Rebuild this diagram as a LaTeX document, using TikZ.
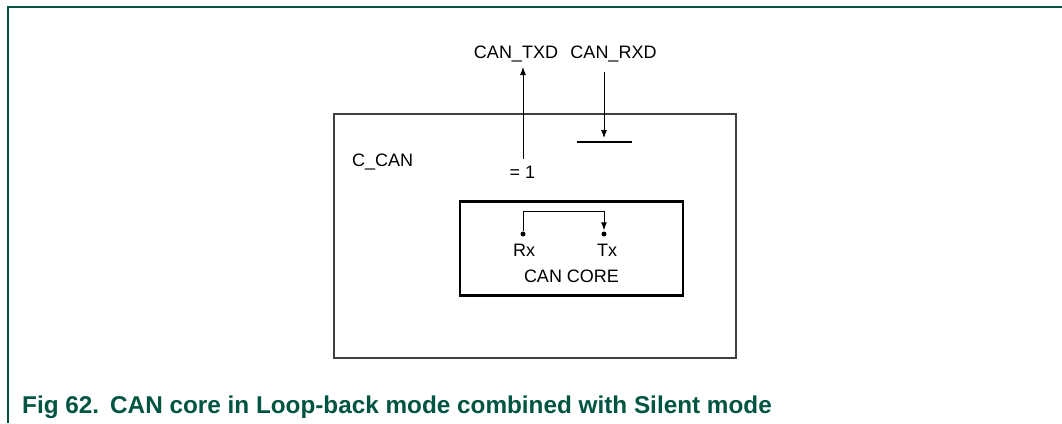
\documentclass[tikz,border=0pt]{standalone}
\usepackage{fontspec}
\setmainfont{Liberation Sans}
\usetikzlibrary{arrows.meta,positioning}
\definecolor{figgreen}{RGB}{0,84,66}
\definecolor{boxgray}{RGB}{64,64,64}

\begin{document}
\begin{tikzpicture}[x=1pt, y=-1pt, font=\fontsize{18}{21}\selectfont,
      arr/.style={-{Latex[length=8pt,width=6pt]}, line width=0.9pt},
      lbl/.style={inner sep=0pt, anchor=base},
      pin/.style={circle, fill, inner sep=0pt, minimum size=5pt},
      cbox/.style={draw=boxgray, line width=1.6pt, inner sep=0pt},
      caption/.style={inner sep=0pt, anchor=base west, text=figgreen,
        font=\fontsize{24.3}{28}\selectfont\bfseries}]
    \useasboundingbox (0,0) rectangle (1062,423);
    % page frame and caption
    \draw[figgreen, line width=2pt] (1062,7) -- (8,7) -- (8,423);
    \node[caption] (fignum) at (22,413) {Fig 62.};
    \node[caption] (figtitle) at (110,413) {CAN core in Loop-back mode combined with Silent mode};
    % C_CAN block and CAN core
    \node[cbox, minimum width=402pt, minimum height=244pt] (ccan) at (535,236) {};
    \node[cbox, draw=black, line width=2.5pt, minimum width=223pt, minimum height=94pt]
      (core) at (571.5,248.7) {};
    \node[lbl, anchor=base west] (ccanlbl) at (352,166) {C\_CAN};
    \node[lbl] (corelbl) at (571.5,282) {CAN CORE};
    % pins
    \foreach \px/\pname/\ptxt/\lx in {523/rx/Rx/524, 604/tx/Tx/607} {
      \node[pin] (\pname) at (\px,234) {};
      \node[lbl] (\pname-lbl) at (\lx,256.7) {\ptxt};
    }
    \draw[arr, shorten >=1pt] (rx) -- ++(0,-23) -| (tx);
    % transmit side, forced recessive
    \node[lbl] (txd) at (516,58.3) {CAN\_TXD};
    \node[lbl] (rxd) at (613.5,58.3) {CAN\_RXD};
    \node[lbl] (one) at (522.5,178.3) {= 1};
    \coordinate (txdfoot) at (523,159);
    \coordinate (txdtip) at (523,67);
    \draw[arr] (txdfoot) -- (txdtip);
    % receive side, disconnected
    \coordinate (barL) at (577,142);
    \coordinate (barR) at (632,142);
    \draw[line width=2.3pt] (barL) -- (barR);
    \coordinate (rxdtop) at (604,72);
    \coordinate (rxdtip) at (604,138);
    \draw[arr] (rxdtop) -- (rxdtip);
  \end{tikzpicture}
\end{document}
